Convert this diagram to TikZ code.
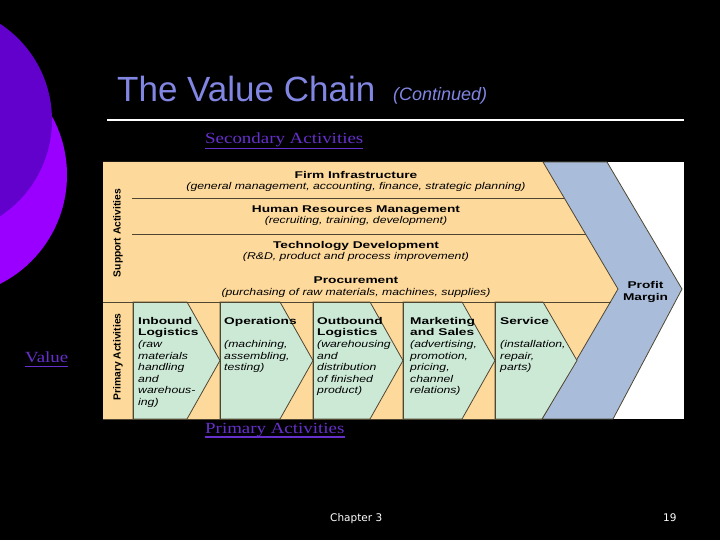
\documentclass[tikz,border=0pt]{standalone}
\usepackage{fontspec}
\newfontfamily\headfont[FakeStretch=1.4]{Liberation Sans}
\newfontfamily\notefont[FakeStretch=1.25]{Liberation Sans}
\newfontfamily\labelfont{Liberation Sans}
\newfontfamily\slidefont[FakeStretch=1.22]{Liberation Serif}
\newfontfamily\footfont{DejaVu Sans}
\usetikzlibrary{calc}
\definecolor{ink}{HTML}{4F4632}
\definecolor{tan}{HTML}{FDD99B}
\definecolor{mint}{HTML}{CCE9D6}
\definecolor{steel}{HTML}{A9BDDA}
\definecolor{orbdark}{HTML}{6200CC}
\definecolor{orbbright}{HTML}{9A00FF}
\definecolor{periwink}{HTML}{8286E3}
\definecolor{linkpurple}{HTML}{6630CC}
\newcommand\acthead[1]{{\headfont\bfseries #1}}
\newcommand\actnote[1]{{\notefont\itshape #1}}
\tikzset{
  head/.style={font=\headfont\bfseries\fontsize{9.8}{11.6}\selectfont,anchor=base,inner sep=0pt},
  sub/.style={font=\notefont\itshape\fontsize{9.8}{11.6}\selectfont,anchor=base,inner sep=0pt},
  actbox/.style={font=\fontsize{9.8}{11.6}\selectfont,align=left,anchor=north west,inner sep=0pt},
  side/.style={font=\labelfont\bfseries\fontsize{10.3}{12}\selectfont,rotate=90,inner sep=0pt},
  link/.style={font=\slidefont\fontsize{15.5}{18}\selectfont,text=linkpurple,anchor=base west,inner sep=0pt},
  underl/.style={linkpurple,line width=1.5pt}
}
\begin{document}
\begin{tikzpicture}[x=1pt,y=-1pt]
  \useasboundingbox (0,0) rectangle (720,540);
  \fill[black] (0,0) rectangle (720,540);
  \fill[orbbright] (-55,175) circle (122);
  \fill[orbdark] (-63,120) circle (115);
  % slide title
  \node[font=\labelfont\fontsize{35}{40}\selectfont,text=periwink,anchor=base west,inner sep=0pt]
    (title) at (117,102) {The Value Chain};
  \node[font=\labelfont\itshape\fontsize{18}{20}\selectfont,text=periwink,anchor=base west,inner sep=0pt]
    (cont) at (393,101) {(Continued)};
  \draw[white,line width=2pt] (107,120) -- (684,120);
  % value chain figure
  \fill[white] (103,162) rectangle (684,419);
  \fill[tan] (103,162) -- (543,162) -- (618,289) -- (542,419) -- (103,419) -- cycle;
  \filldraw[fill=steel,draw=ink,line width=0.8pt]
    (543,162) -- (607,162) -- (682,289) -- (613,419) -- (542,419) -- (618,289) -- cycle;
  \foreach \l/\r in {133/220,220/313,313/403,403/495}{
    \filldraw[fill=mint,draw=ink,line width=0.8pt]
      (\l,302) -- (\r-33,302) -- (\r,360.5) -- (\r-33,419) -- (\l,419) -- cycle;
  }
  \filldraw[fill=mint,draw=ink,line width=0.8pt]
    (495,302) -- (543,302) -- (577,360.5) -- (542,419) -- (495,419) -- cycle;
  \foreach \x in {133,220,313,403,495}{
    \draw[ink,line width=1pt] (\x,302) -- (\x,419);
  }
  \draw[ink,line width=1pt] (132,199) -- (565,199);
  \draw[ink,line width=1pt] (132,234) -- (585.5,234);
  \draw[ink,line width=1pt] (103,302) -- (610.5,302);
  \draw[ink,line width=1pt] (103,419) -- (542,419);
  % support activities
  \node[side] (suplab) at (118,233) {Support Activities};
  \node[head] (firm) at (356,178.5) {Firm Infrastructure};
  \node[sub] (firmsub) at (356,189.5) {(general management, accounting, finance, strategic planning)};
  \node[head] (hrm) at (356,212.7) {Human Resources Management};
  \node[sub] (hrmsub) at (356,224) {(recruiting, training, development)};
  \node[head] (tech) at (356,248) {Technology Development};
  \node[sub] (techsub) at (356,259) {(R\&D, product and process improvement)};
  \node[head] (proc) at (356,283) {Procurement};
  \node[sub] (procsub) at (356,295) {(purchasing of raw materials, machines, supplies)};
  \node[head,align=center,anchor=north] (margin) at (645.5,281.5) {Profit\\Margin};
  % primary activities
  \node[side] (primlab) at (118,357) {Primary Activities};
  \node[actbox] (inbound) at (138,317)
    {\acthead{Inbound}\\\acthead{Logistics}\\\actnote{(raw}\\\actnote{materials}\\
     \actnote{handling}\\\actnote{and}\\\actnote{warehous-}\\\actnote{ing)}};
  \node[actbox] (ops) at (224,317)
    {\acthead{Operations}\\[11.6pt]\actnote{(machining,}\\\actnote{assembling,}\\\actnote{testing)}};
  \node[actbox] (outbound) at (317,317)
    {\acthead{Outbound}\\\acthead{Logistics}\\\actnote{(warehousing}\\\actnote{and}\\
     \actnote{distribution}\\\actnote{of finished}\\\actnote{product)}};
  \node[actbox] (market) at (410,317)
    {\acthead{Marketing}\\\acthead{and Sales}\\\actnote{(advertising,}\\\actnote{promotion,}\\
     \actnote{pricing,}\\\actnote{channel}\\\actnote{relations)}};
  \node[actbox] (service) at (500,317)
    {\acthead{Service}\\[11.6pt]\actnote{(installation,}\\\actnote{repair,}\\\actnote{parts)}};
  % link texts
  \node[link] (secondary) at (205,144) {Secondary Activities};
  \draw[underl] ([yshift=-4.5pt]secondary.base west) -- ([yshift=-4.5pt]secondary.base east);
  \node[link] (value) at (25,362.5) {Value};
  \draw[underl] ([yshift=-4pt]value.base west) -- ([yshift=-4pt]value.base east);
  \node[link] (primary) at (205,433) {Primary Activities};
  \draw[underl] ([yshift=-4pt]primary.base west) -- ([yshift=-4pt]primary.base east);
  % footer
  \node[font=\footfont\fontsize{10.5}{12}\selectfont,text=white,anchor=base west,inner sep=0pt]
    (chapter) at (330,521.5) {Chapter 3};
  \node[font=\footfont\fontsize{10.5}{12}\selectfont,text=white,anchor=base west,inner sep=0pt]
    (pagenum) at (663,521.5) {19};
\end{tikzpicture}
\end{document}
